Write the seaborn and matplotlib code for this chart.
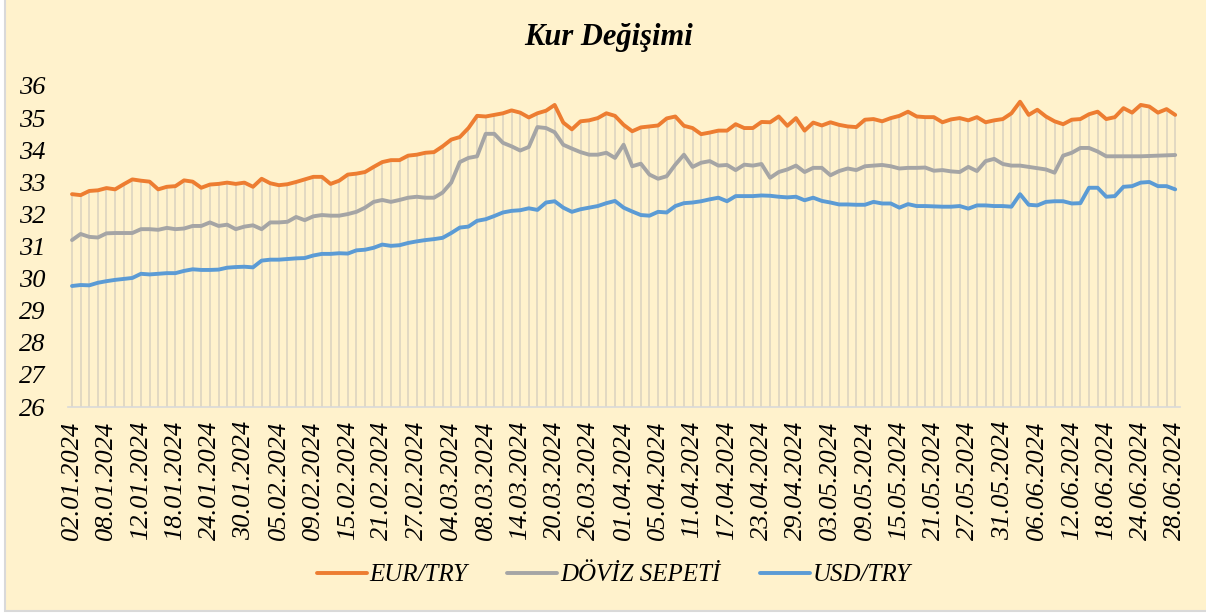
import numpy as np
import pandas as pd
import matplotlib
matplotlib.use("Agg")
import matplotlib.pyplot as plt
import seaborn as sns
from matplotlib.patches import Rectangle

# --- VERILER ---
dates = pd.bdate_range("2024-01-02", "2024-06-28")
tarih = [d.strftime("%d.%m.%Y") for d in dates]

eur_try = [
    32.63, 32.60, 32.73, 32.75, 32.82, 32.78, 32.94, 33.09, 33.05, 33.02,
    32.78, 32.86, 32.88, 33.06, 33.02, 32.83, 32.93, 32.95, 32.99, 32.95,
    32.99, 32.86, 33.11, 32.97, 32.91, 32.94, 33.01, 33.09, 33.17, 33.17,
    32.95, 33.05, 33.24, 33.27, 33.32, 33.48, 33.63, 33.69, 33.69, 33.83,
    33.86, 33.92, 33.94, 34.12, 34.33, 34.41, 34.69, 35.07, 35.05, 35.10,
    35.15, 35.24, 35.17, 35.02, 35.15, 35.23, 35.41, 34.86, 34.65, 34.90,
    34.93, 35.00, 35.15, 35.07, 34.79, 34.59, 34.71, 34.74, 34.77, 34.99,
    35.05, 34.76, 34.69, 34.50, 34.55, 34.61, 34.61, 34.81, 34.69, 34.69,
    34.88, 34.87, 35.05, 34.76, 35.00, 34.61, 34.86, 34.77, 34.87, 34.79,
    34.74, 34.72, 34.95, 34.97, 34.90, 35.00, 35.07, 35.20, 35.05, 35.03,
    35.03, 34.87, 34.96, 35.00, 34.93, 35.03, 34.87, 34.93, 34.97, 35.15,
    35.51, 35.10, 35.26, 35.05, 34.90, 34.81, 34.95, 34.97, 35.12, 35.20,
    34.97, 35.03, 35.31, 35.17, 35.41, 35.36, 35.17, 35.28, 35.10,
]

doviz_sepeti = [
    31.20, 31.39, 31.30, 31.28, 31.41, 31.42, 31.42, 31.42, 31.54, 31.54,
    31.52, 31.58, 31.54, 31.56, 31.64, 31.64, 31.75, 31.64, 31.68, 31.54,
    31.62, 31.66, 31.54, 31.75, 31.75, 31.77, 31.92, 31.82, 31.94, 31.98,
    31.96, 31.96, 32.01, 32.08, 32.21, 32.39, 32.45, 32.39, 32.45, 32.52,
    32.55, 32.52, 32.52, 32.68, 32.99, 33.63, 33.76, 33.81, 34.51, 34.51,
    34.23, 34.12, 33.99, 34.10, 34.72, 34.69, 34.56, 34.17, 34.05, 33.94,
    33.86, 33.86, 33.92, 33.76, 34.17, 33.50, 33.58, 33.24, 33.11, 33.19,
    33.55, 33.86, 33.48, 33.61, 33.66, 33.52, 33.54, 33.38, 33.55, 33.52,
    33.57, 33.14, 33.32, 33.40, 33.52, 33.32, 33.45, 33.45, 33.22, 33.35,
    33.43, 33.38, 33.50, 33.52, 33.54, 33.50, 33.43, 33.45, 33.45, 33.46,
    33.36, 33.38, 33.34, 33.32, 33.48, 33.35, 33.66, 33.73, 33.57, 33.52,
    33.52, 33.48, 33.44, 33.40, 33.30, 33.83, 33.92, 34.07, 34.07, 33.96,
    33.81, 33.81, 33.81, 33.81, 33.81, 33.82, 33.83, 33.84, 33.85,
]

usd_try = [
    29.77, 29.80, 29.79, 29.87, 29.92, 29.96, 29.99, 30.02, 30.15, 30.13,
    30.15, 30.17, 30.17, 30.24, 30.29, 30.27, 30.27, 30.28, 30.34, 30.36,
    30.37, 30.35, 30.56, 30.59, 30.59, 30.61, 30.63, 30.64, 30.72, 30.77,
    30.77, 30.79, 30.78, 30.88, 30.90, 30.96, 31.06, 31.02, 31.04, 31.11,
    31.16, 31.20, 31.23, 31.27, 31.42, 31.59, 31.62, 31.80, 31.85, 31.95,
    32.06, 32.11, 32.13, 32.19, 32.14, 32.37, 32.41, 32.21, 32.08, 32.16,
    32.21, 32.26, 32.35, 32.42, 32.21, 32.09, 31.98, 31.96, 32.08, 32.06,
    32.26, 32.35, 32.37, 32.41, 32.47, 32.52, 32.41, 32.57, 32.57, 32.57,
    32.59, 32.58, 32.55, 32.53, 32.55, 32.44, 32.52, 32.42, 32.37, 32.31,
    32.31, 32.30, 32.30, 32.39, 32.34, 32.34, 32.21, 32.32, 32.26, 32.26,
    32.25, 32.24, 32.24, 32.26, 32.18, 32.28, 32.28, 32.26, 32.26, 32.24,
    32.63, 32.30, 32.28, 32.39, 32.41, 32.41, 32.34, 32.35, 32.83, 32.83,
    32.55, 32.57, 32.86, 32.88, 32.99, 33.01, 32.88, 32.88, 32.78,
]

seriler = ["EUR/TRY", "DÖVİZ SEPETİ", "USD/TRY"]
renkler = ["#ED7D31", "#A5A5A5", "#5B9BD5"]
y_ticks = list(range(26, 37))
# ---------------

df = pd.DataFrame({"idx": np.arange(len(tarih)), "EUR/TRY": eur_try,
                   "DÖVİZ SEPETİ": doviz_sepeti, "USD/TRY": usd_try})
uzun = df.melt(id_vars="idx", var_name="seri", value_name="deger")

sns.set_style("white")
plt.rcParams["font.family"] = ["Liberation Serif", "DejaVu Serif"]
plt.rcParams["text.color"] = "black"
plt.rcParams["xtick.color"] = "black"
plt.rcParams["ytick.color"] = "black"

fig = plt.figure(figsize=(12.06, 6.16), dpi=100, facecolor="white")
# grafik alani (sari zemin + gri cerceve)
fig.patches.append(Rectangle((5 / 1206, 5 / 616), 1.0, 1.0, transform=fig.transFigure,
                             facecolor="#FFF2CC", edgecolor="#D9D9D9", linewidth=1.5, zorder=-5))

ax = fig.add_axes([67.7 / 1206, 209 / 616, (1179.5 - 67.7) / 1206, (407 - 86) / 616])
ax.set_facecolor("none")
ax.set_zorder(2)

# dikey dusus cizgileri (drop lines)
ust = df[seriler].max(axis=1)
ax.vlines(df["idx"], 26, ust, color="#DFD7C2", linewidth=1.3, zorder=1)

sns.lineplot(data=uzun, x="idx", y="deger", hue="seri", hue_order=seriler,
             palette=renkler, linewidth=2.8, ax=ax, legend=False, zorder=3)

ax.set_xlim(-0.5, len(tarih) - 0.5)
ax.set_ylim(26, 36)
ax.set_yticks(y_ticks)
ax.set_yticklabels([str(t) for t in y_ticks], fontsize=19, style="italic")
ax.set_xticks(df["idx"][::4])
ax.set_xticklabels(tarih[::4], rotation=90, fontsize=19, style="italic")
ax.tick_params(axis="y", length=0, pad=16)
ax.tick_params(axis="x", length=0, pad=10)
ax.set_xlabel("")
ax.set_ylabel("")
for s in ["top", "right", "left"]:
    ax.spines[s].set_visible(False)
ax.spines["bottom"].set_color("#D9D9D9")
ax.spines["bottom"].set_linewidth(1.2)

fig.text(0.505, 1 - 37 / 616, "Kur Değişimi", ha="center", va="center",
         fontsize=22, fontweight="bold", style="italic")

leg = fig.legend(handles=ax.lines[:3], labels=seriler, loc="center",
                 bbox_to_anchor=(0.509, 1 - 575 / 616), ncol=3, frameon=False,
                 prop={"size": 18, "style": "italic"}, handlelength=2.0,
                 handletextpad=0.1, columnspacing=1.6)

plt.savefig("out.png", dpi=100, facecolor=fig.get_facecolor())
